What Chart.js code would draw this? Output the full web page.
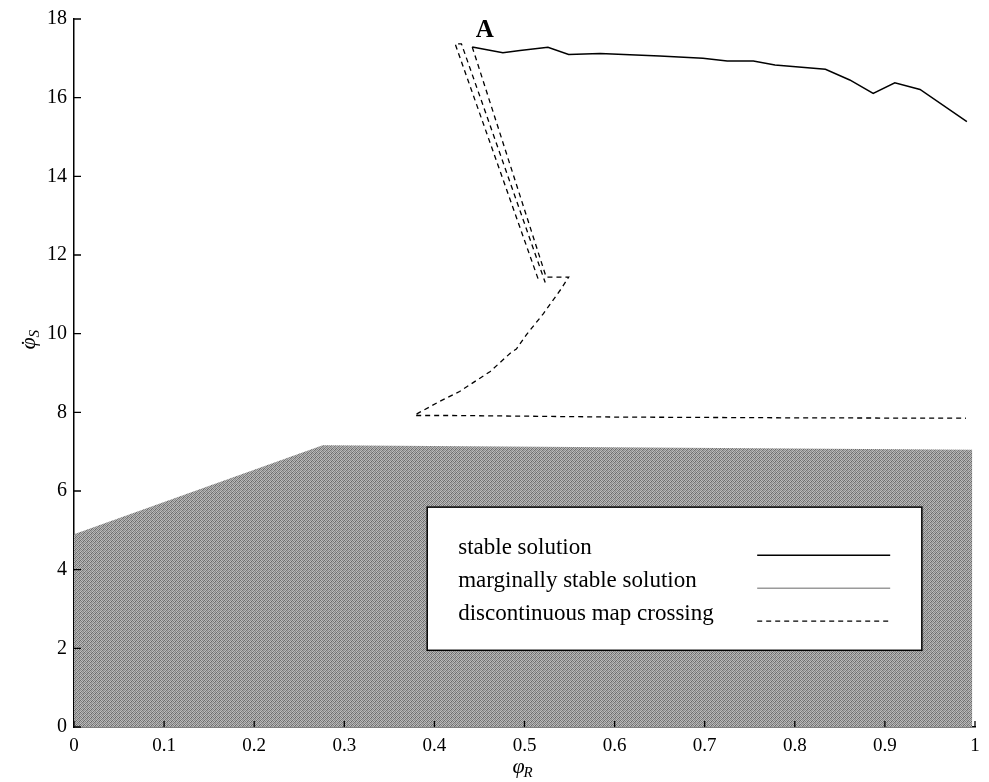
<!DOCTYPE html>
<html lang="en">
<head>
<meta charset="UTF-8">
<title>Stability map</title>
<script src="https://cdn.jsdelivr.net/npm/chart.js"></script>
<style>
  html, body { margin: 0; padding: 0; background: #fff; }
  #wrap { width: 989px; height: 782px; }
</style>
</head>
<body>
<div id="wrap"><canvas id="chart" width="989" height="782"></canvas></div>
<script>
// values
var stableX = [0.442, 0.476, 0.495, 0.526, 0.549, 0.584, 0.650, 0.698, 0.725, 0.754, 0.778, 0.834, 0.861, 0.887, 0.911, 0.939, 0.991];
var stableY = [17.29, 17.14, 17.20, 17.28, 17.10, 17.12, 17.06, 17.00, 16.93, 16.93, 16.83, 16.72, 16.45, 16.11, 16.38, 16.21, 15.39];

var crossX = [0.442, 0.524, 0.549, 0.541, 0.521, 0.502, 0.491, 0.486, 0.462, 0.428, 0.406, 0.382, 0.378, 0.420, 0.600, 0.800, 0.990];
var crossY = [17.29, 11.44, 11.44, 11.15, 10.51, 9.97, 9.61, 9.54, 9.04, 8.53, 8.28, 7.98, 7.92, 7.92, 7.88, 7.86, 7.85];

var loopX = [0.515, 0.423, 0.430, 0.523];
var loopY = [11.40, 17.37, 17.37, 11.30];

var regionX = [0, 0.276, 0.997];
var regionY = [4.90, 7.16, 7.05];

var xTicks = [0, 0.1, 0.2, 0.3, 0.4, 0.5, 0.6, 0.7, 0.8, 0.9, 1];
var xTickLabels = ['0', '0.1', '0.2', '0.3', '0.4', '0.5', '0.6', '0.7', '0.8', '0.9', '1'];
var yTicks = [0, 2, 4, 6, 8, 10, 12, 14, 16, 18];
var yTickLabels = ['0', '2', '4', '6', '8', '10', '12', '14', '16', '18'];

var seriesNames = ['stable solution', 'marginally stable solution', 'discontinuous map crossing'];

function pts(xs, ys) {
  return xs.map(function (x, i) { return { x: x, y: ys[i] }; });
}

// grey stipple for the shaded region
function stipple() {
  var c = document.createElement('canvas');
  c.width = 4; c.height = 4;
  var g = c.getContext('2d');
  var shades = ['#6e6e6e', '#bcbcbc', '#8a8a8a', '#b0b0b0',
                '#b4b4b4', '#7c7c7c', '#c0c0c0', '#666666',
                '#929292', '#b8b8b8', '#747474', '#a8a8a8',
                '#bebebe', '#7a7a7a', '#b2b2b2', '#888888'];
  for (var i = 0; i < 16; i++) {
    g.fillStyle = shades[i];
    g.fillRect(i % 4, Math.floor(i / 4), 1, 1);
  }
  return g.createPattern(c, 'repeat');
}

var serif = "'Liberation Serif', 'Times New Roman', serif";

var extras = {
  id: 'extras',
  afterDatasetsDraw: function (chart) {
    var ctx = chart.ctx, xs = chart.scales.x, ys = chart.scales.y;
    ctx.save();
    // legend box
    var l = xs.getPixelForValue(0.392), r = xs.getPixelForValue(0.941);
    var t = ys.getPixelForValue(5.59), b = ys.getPixelForValue(1.95);
    ctx.fillStyle = '#fff';
    ctx.fillRect(l, t, r - l, b - t);
    ctx.strokeStyle = '#000';
    ctx.lineWidth = 1.5;
    ctx.strokeRect(l, t, r - l, b - t);
    var styles = [
      { color: '#000', width: 1.5, dash: [] },
      { color: '#9a9a9a', width: 1.5, dash: [] },
      { color: '#000', width: 1.3, dash: [5, 4] }
    ];
    ctx.font = '23px ' + serif;
    ctx.textBaseline = 'middle';
    ctx.textAlign = 'left';
    for (var i = 0; i < seriesNames.length; i++) {
      var cy = t + 41 + i * 33;
      ctx.fillStyle = '#000';
      ctx.fillText(seriesNames[i], l + 31, cy);
      ctx.beginPath();
      ctx.setLineDash(styles[i].dash);
      ctx.strokeStyle = styles[i].color;
      ctx.lineWidth = styles[i].width;
      ctx.moveTo(l + 330, cy + 7);
      ctx.lineTo(l + 463, cy + 7);
      ctx.stroke();
    }
    ctx.setLineDash([]);
    // label A
    ctx.fillStyle = '#000';
    ctx.font = 'bold 25px ' + serif;
    ctx.textAlign = 'center';
    ctx.textBaseline = 'alphabetic';
    ctx.fillText('A', xs.getPixelForValue(0.456), ys.getPixelForValue(17.55));
    ctx.restore();
  },
  afterDraw: function (chart) {
    var ctx = chart.ctx, xs = chart.scales.x, ys = chart.scales.y, a = chart.chartArea;
    ctx.save();
    ctx.strokeStyle = '#000';
    ctx.lineWidth = 1.3;
    ctx.beginPath();
    xTicks.forEach(function (v) {
      var px = xs.getPixelForValue(v);
      ctx.moveTo(px, a.bottom); ctx.lineTo(px, a.bottom - 6);
    });
    yTicks.forEach(function (v) {
      var py = ys.getPixelForValue(v);
      ctx.moveTo(a.left, py); ctx.lineTo(a.left + 7, py);
    });
    ctx.stroke();
    // axis titles
    ctx.fillStyle = '#000';
    ctx.textBaseline = 'alphabetic';
    ctx.textAlign = 'left';
    var cx = xs.getPixelForValue(0.5);
    ctx.font = 'italic 22px ' + serif;
    ctx.fillText('\u03C6', cx - 12, 773);
    ctx.font = 'italic 15px ' + serif;
    ctx.fillText('R', cx - 1, 777);
    ctx.translate(35, ys.getPixelForValue(9.9));
    ctx.rotate(-Math.PI / 2);
    ctx.font = 'italic 22px ' + serif;
    ctx.fillText('\u03C6', -12, 0);
    ctx.font = '22px ' + serif;
    ctx.fillText('\u02D9', -9, 1);
    ctx.font = 'italic 15px ' + serif;
    ctx.fillText('S', 0, 4);
    ctx.restore();
  }
};

new Chart(document.getElementById('chart').getContext('2d'), {
  type: 'line',
  data: {
    datasets: [
      {
        label: 'region',
        data: pts(regionX, regionY),
        borderWidth: 0,
        borderColor: 'rgba(0,0,0,0)',
        backgroundColor: stipple(),
        fill: 'origin',
        pointRadius: 0,
        tension: 0
      },
      {
        label: seriesNames[0],
        data: pts(stableX, stableY),
        borderColor: '#000',
        borderWidth: 1.5,
        pointRadius: 0,
        fill: false,
        tension: 0
      },
      {
        label: seriesNames[1],
        data: [],
        borderColor: '#9a9a9a',
        borderWidth: 1.5,
        pointRadius: 0,
        fill: false
      },
      {
        label: seriesNames[2],
        data: pts(crossX, crossY),
        borderColor: '#000',
        borderWidth: 1.3,
        borderDash: [5, 4],
        pointRadius: 0,
        fill: false,
        tension: 0
      },
      {
        label: seriesNames[2] + ' (loop)',
        data: pts(loopX, loopY),
        borderColor: '#000',
        borderWidth: 1.3,
        borderDash: [5, 4],
        pointRadius: 0,
        fill: false,
        tension: 0
      }
    ]
  },
  options: {
    responsive: false,
    animation: false,
    layout: { padding: { top: 16, right: 14, left: 0, bottom: 0 } },
    plugins: { legend: { display: false }, tooltip: { enabled: false } },
    scales: {
      x: {
        type: 'linear',
        min: 0,
        max: 1,
        afterBuildTicks: function (s) { s.ticks = xTicks.map(function (v) { return { value: v }; }); },
        afterFit: function (s) { s.height = 55; },
        grid: { display: false, drawTicks: false },
        border: { display: true, color: '#000', width: 1.5 },
        ticks: {
          padding: 8,
          color: '#000',
          font: { family: serif, size: 19 },
          maxRotation: 0,
          callback: function (v) { return xTickLabels[xTicks.indexOf(v)]; }
        }
      },
      y: {
        type: 'linear',
        min: 0,
        max: 18,
        afterBuildTicks: function (s) { s.ticks = yTicks.map(function (v) { return { value: v }; }); },
        afterFit: function (s) { s.width = 74; },
        grid: { display: false, drawTicks: false },
        border: { display: true, color: '#000', width: 1.5 },
        ticks: {
          padding: 7,
          color: '#000',
          font: { family: serif, size: 20 },
          callback: function (v) { return yTickLabels[yTicks.indexOf(v)]; }
        }
      }
    }
  },
  plugins: [extras]
});
</script>
</body>
</html>
